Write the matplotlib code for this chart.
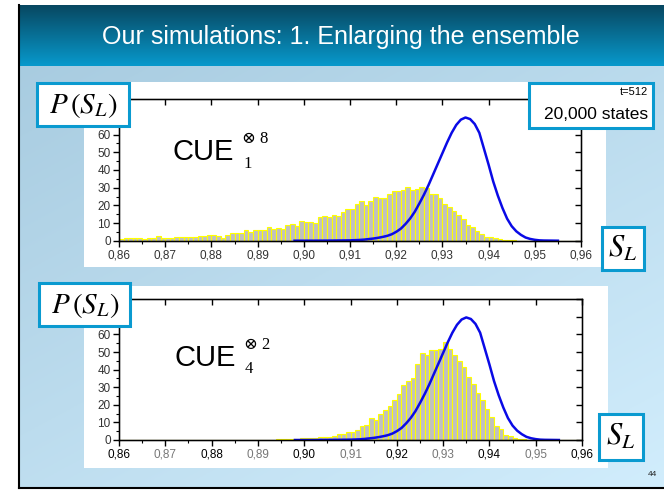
import numpy as np
import matplotlib
matplotlib.use('Agg')
import matplotlib.pyplot as plt
from matplotlib.patches import Rectangle

plt.rcParams['mathtext.fontset'] = 'stix'
plt.rcParams['font.family'] = ['Liberation Sans', 'DejaVu Sans']

# histogram bins: width 0.001 starting at 0.860
bin_start = 0.860
bin_width = 0.001

# CUE_1^(x8) histogram heights, bins 0.860 .. 0.959
hist_top = [1.2, 1.3, 1.3, 1.5, 1.4, 1.1, 1.3, 1.5, 2.4, 1.8,
            1.4, 1.5, 1.9, 1.9, 2.0, 2.2, 2.0, 2.4, 2.6, 3.0,
            3.1, 2.8, 1.8, 3.4, 4.5, 4.5, 4.2, 5.8, 5.0, 5.8,
            5.8, 6.3, 7.8, 6.6, 7.4, 6.8, 9.0, 9.6, 8.4, 11.0,
            10.8, 10.8, 10.2, 13.6, 14.0, 13.6, 14.4, 14.0, 16.2, 18.0,
            18.0, 20.5, 22.6, 20.0, 22.6, 25.0, 24.0, 24.0, 26.6, 28.3,
            28.0, 28.5, 30.2, 28.5, 29.4, 30.5, 30.0, 26.6, 26.6, 24.0,
            21.0, 19.0, 17.0, 14.5, 12.5, 8.7, 7.5, 5.3, 3.8, 2.3,
            1.9, 1.3, 0.8, 0.5, 0.3, 0.2, 0.1, 0.1, 0.0, 0.0,
            0, 0, 0, 0, 0, 0, 0, 0, 0, 0]

# CUE_4^(x2) histogram heights, bins 0.860 .. 0.959
hist_bot = [0, 0, 0, 0, 0, 0, 0, 0, 0, 0,
            0, 0, 0, 0, 0, 0, 0, 0, 0, 0,
            0, 0, 0, 0, 0, 0, 0, 0, 0, 0,
            0, 0, 0, 0, 0.4, 0.4, 0.5, 0.6, 0.8, 1.0,
            1.0, 1.1, 1.3, 1.5, 1.7, 1.9, 2.0, 3.4, 3.6, 4.6,
            4.8, 5.5, 8.0, 8.7, 12.4, 11.6, 14.8, 17.3, 19.6, 23.0,
            26.0, 31.0, 33.5, 35.5, 43.0, 49.5, 48.5, 51.0, 51.0, 51.5,
            56.0, 51.5, 48.5, 45.0, 41.5, 36.0, 32.0, 27.0, 22.5, 17.5,
            13.0, 8.2, 6.3, 3.0, 2.1, 1.0, 0.6, 0.3, 0.2, 0.1,
            0, 0, 0, 0, 0, 0, 0, 0, 0, 0]

# reference curve (same in both panels)
curve_x = [0.898, 0.900, 0.905, 0.910, 0.911, 0.912, 0.913, 0.914, 0.915, 0.916,
           0.917, 0.918, 0.919, 0.920, 0.921, 0.922, 0.923, 0.924, 0.925, 0.926,
           0.927, 0.928, 0.929, 0.930, 0.931, 0.932, 0.933, 0.934, 0.935, 0.936,
           0.937, 0.938, 0.939, 0.940, 0.941, 0.942, 0.943, 0.944, 0.945, 0.946,
           0.947, 0.948, 0.949, 0.950, 0.951, 0.952, 0.955]
curve_y = [0.0, 0.0, 0.05, 0.2, 0.3, 0.4, 0.6, 0.9, 1.2, 1.6,
           2.1, 2.7, 3.6, 5.0, 6.8, 9.4, 12.5, 16.3, 21.0, 26.0,
           31.5, 37.5, 43.5, 49.5, 55.5, 61.0, 65.5, 68.5, 69.7, 68.8,
           66.0, 61.0, 52.0, 43.0, 33.5, 25.5, 18.5, 12.5, 8.2, 5.3,
           3.3, 1.8, 1.0, 0.5, 0.2, 0.1, 0.0]

xticks = [0.86, 0.87, 0.88, 0.89, 0.90, 0.91, 0.92, 0.93, 0.94, 0.95, 0.96]
xlabels = ['0,86', '0,87', '0,88', '0,89', '0,90', '0,91', '0,92', '0,93', '0,94', '0,95', '0,96']
yticks = [0, 10, 20, 30, 40, 50, 60, 70, 80]
ylabels = ['0', '10', '20', '30', '40', '50', '60', '', '']

W, H = 664, 491
fig = plt.figure(figsize=(W / 100, H / 100), dpi=100)

# ---- slide background ----
bg = fig.add_axes([0, 0, 1, 1], zorder=-10)
bg.set_xlim(0, W)
bg.set_ylim(H, 0)
bg.axis('off')
gx, gy = np.meshgrid(np.linspace(0, 1, 200), np.linspace(0, 1, 200))
t = np.clip(0.55 * gy + 0.45 * gx, 0, 1)[..., None]
c0 = np.array([0.66, 0.80, 0.88])
c1 = np.array([0.82, 0.93, 0.99])
bg.imshow(c0 + (c1 - c0) * t, extent=[19, W, 488, 66], aspect='auto', zorder=0)
# title bar gradient
tt = np.linspace(0, 1, 100)[:, None, None] * np.ones((1, 2, 1))
d0 = np.array([0.03, 0.28, 0.38])
d1 = np.array([0.03, 0.60, 0.80])
bg.imshow(d0 + (d1 - d0) * tt, extent=[19, W, 66, 5], aspect='auto', zorder=1)
bg.plot([19, 19], [5, 488], color='black', lw=1.5, zorder=3)
bg.plot([19, W], [488, 488], color='black', lw=1.5, zorder=3)
bg.text(341, 37, 'Our simulations: 1. Enlarging the ensemble', color='white',
        fontsize=18, ha='center', va='center', zorder=4)
bg.text(652, 474, '44', fontsize=6, ha='center', va='center', color='#222222', zorder=4)
# white panels behind the charts
bg.add_patch(Rectangle((84, 82), 522, 185, facecolor='white', edgecolor='none', zorder=2))
bg.add_patch(Rectangle((84, 286), 524, 182, facecolor='white', edgecolor='none', zorder=2))


def draw_panel(rect, heights, bold_alt):
    ax = fig.add_axes(rect)
    edges = [bin_start + i * bin_width for i in range(len(heights))]
    ax.bar(edges, heights, width=bin_width, align='edge', color='#c0c0c0',
           edgecolor='#ffff00', linewidth=0.8)
    ax.plot(curve_x, curve_y, color='#0a0ae6', lw=1.8)
    ax.set_xlim(0.86, 0.96)
    ax.set_ylim(0, 80)
    ax.set_xticks(xticks)
    ax.set_xticklabels(xlabels)
    ax.set_xticks(np.arange(0.865, 0.96, 0.01), minor=True)
    ax.set_yticks(yticks)
    ax.set_yticklabels(ylabels)
    ax.set_yticks(np.arange(5, 80, 10), minor=True)
    ax.tick_params(axis='both', which='major', direction='out', length=4, width=1,
                   labelsize=8.5, labelcolor='#333333', pad=2)
    ax.tick_params(axis='both', which='minor', direction='out', length=2.5, width=0.8)
    for s in ax.spines.values():
        s.set_linewidth(1)
    ax2 = ax.twinx()
    ax2.set_ylim(0, 80)
    ax2.set_yticks(yticks)
    ax2.set_yticklabels([])
    ax2.tick_params(axis='y', direction='in', length=4, width=1)
    ax3 = ax.twiny()
    ax3.set_xlim(0.86, 0.96)
    ax3.set_xticks(xticks)
    ax3.set_xticklabels([])
    ax3.tick_params(axis='x', direction='in', length=4, width=1)
    if bold_alt:
        for i, lab in enumerate(ax.get_xticklabels()):
            lab.set_color('#000000' if i % 2 == 0 else '#777777')
    return ax


draw_panel([119 / W, 1 - 240.7 / H, 462 / W, 141.4 / H], hist_top, False)
draw_panel([119 / W, 1 - 440 / H, 463 / W, 140.7 / H], hist_bot, True)

# ---- overlay: labels and boxes ----
ov = fig.add_axes([0, 0, 1, 1], zorder=10)
ov.set_xlim(0, W)
ov.set_ylim(H, 0)
ov.axis('off')
ov.patch.set_alpha(0)

box_col = '#0a9ad0'
for (x, y, w, h) in [(37, 83, 92, 43), (529, 83, 124, 45), (602, 227, 42, 43),
                     (39, 283, 91, 43), (599, 414, 44, 46)]:
    ov.add_patch(Rectangle((x, y), w, h, facecolor='white', edgecolor=box_col, lw=2.2))

ov.text(83, 105, r'$P\,(S_L)$', fontsize=21, ha='center', va='center')
ov.text(85, 305, r'$P\,(S_L)$', fontsize=21, ha='center', va='center')
ov.text(623, 249, r'$S_L$', fontsize=22, ha='center', va='center')
ov.text(621, 437, r'$S_L$', fontsize=22, ha='center', va='center')
ov.text(648, 92, 't=512', fontsize=8, ha='right', va='center')
ov.text(648, 114, '20,000 states', fontsize=12.5, ha='right', va='center')

ov.text(172, 160, 'CUE', fontsize=21, ha='left', va='baseline')
ov.text(242, 143, '\u2297 8', fontsize=12, ha='left', va='baseline',
        family=['Liberation Serif', 'DejaVu Serif'])
ov.text(243, 168, '1', fontsize=12, ha='left', va='baseline', family='Liberation Serif')
ov.text(174, 366, 'CUE', fontsize=21, ha='left', va='baseline')
ov.text(244, 349, '\u2297 2', fontsize=12, ha='left', va='baseline',
        family=['Liberation Serif', 'DejaVu Serif'])
ov.text(245, 373, '4', fontsize=12, ha='left', va='baseline', family='Liberation Serif')

fig.savefig('out.png', dpi=100)
